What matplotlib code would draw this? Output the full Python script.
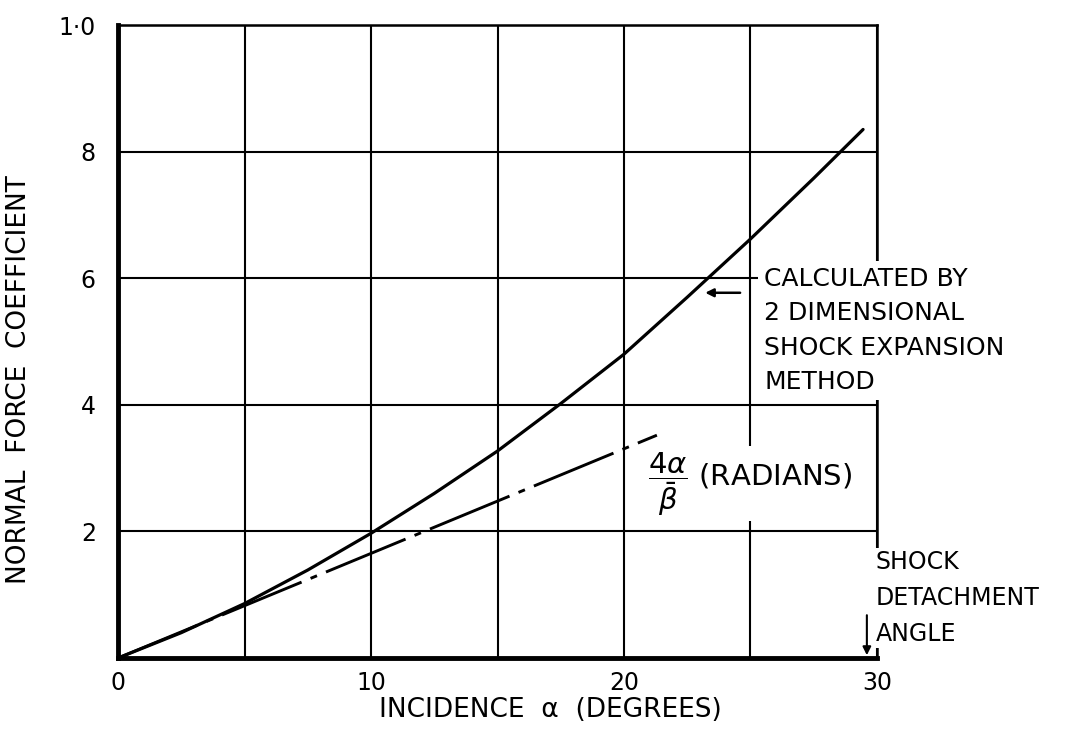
import numpy as np
import matplotlib
matplotlib.use("Agg")
import matplotlib.pyplot as plt

plt.rcParams["font.family"] = "DejaVu Sans"
plt.rcParams["mathtext.fontset"] = "dejavusans"
plt.rcParams["lines.scale_dashes"] = False

# solid curve: 2-D shock expansion method
shock_alpha = [0, 2.5, 5, 7.5, 10, 12.5, 15, 17.5, 20, 22.5, 25, 27.5, 29.45]
shock_cn = [0, 0.040, 0.086, 0.139, 0.197, 0.260, 0.327, 0.402, 0.480, 0.570, 0.662, 0.758, 0.835]

# dash-dot: linear theory 4a/beta
lin_alpha = [0, 21.3]
lin_cn = [0, 0.352]

x_ticks = [0, 5, 10, 15, 20, 25, 30]
x_labels = ["0", "", "10", "", "20", "", "30"]
y_ticks = [0.2, 0.4, 0.6, 0.8, 1.0]
y_labels = ["2", "4", "6", "8", "1·0"]

fig = plt.figure(figsize=(10.92, 7.38), dpi=100)
ax = fig.add_axes([0.1081, 0.1084, 0.695, 0.8577])

ax.plot(shock_alpha, shock_cn, color="black", lw=2.3, solid_capstyle="round",
        solid_joinstyle="round", zorder=4)
lin, = ax.plot(lin_alpha, lin_cn, color="black", lw=2.1, zorder=4)
lin.set_dashes([62, 7, 5, 7])

ax.set_xlim(0, 30)
ax.set_ylim(0, 1.0)
ax.set_xticks(x_ticks)
ax.set_xticklabels(x_labels)
ax.set_yticks(y_ticks)
ax.set_yticklabels(y_labels)
ax.tick_params(length=0, labelsize=17)
ax.tick_params(axis="x", pad=9)
ax.tick_params(axis="y", pad=16)
ax.grid(True, color="black", lw=1.5)
ax.set_axisbelow(True)

for side in ["left", "bottom"]:
    ax.spines[side].set_linewidth(3.5)
for side in ["top", "right"]:
    ax.spines[side].set_linewidth(1.8)

ax.set_xlabel("INCIDENCE  α  (DEGREES)", fontsize=19)
ax.xaxis.set_label_coords(0.569, -0.062)
ax.set_ylabel("NORMAL  FORCE  COEFFICIENT", fontsize=19)
ax.yaxis.set_label_coords(-0.113, 0.44)

box = dict(boxstyle="square,pad=0.25", facecolor="white", edgecolor="none")

ax.text(25.55, 0.618, "CALCULATED BY\n2 DIMENSIONAL\nSHOCK EXPANSION\nMETHOD",
        fontsize=18, va="top", ha="left", linespacing=1.55, bbox=box,
        zorder=6, clip_on=False)
ax.annotate("", xy=(23.1, 0.577), xytext=(24.7, 0.577),
            arrowprops=dict(arrowstyle="-|>", color="black", lw=1.8,
                            mutation_scale=12), zorder=6)

ax.text(20.95, 0.275, r"$\dfrac{4\alpha}{\bar{\beta}}$ (RADIANS)",
        fontsize=21, va="center", ha="left",
        bbox=dict(boxstyle="square,pad=0.12", facecolor="white", edgecolor="none"),
        zorder=6, clip_on=False)

ax.text(29.95, 0.17, "SHOCK\nDETACHMENT\nANGLE", fontsize=17, va="top", ha="left",
        linespacing=1.62, bbox=dict(boxstyle="square,pad=0.1", facecolor="white",
                                    edgecolor="none"), zorder=6, clip_on=False)
ax.annotate("", xy=(29.6, 0.0), xytext=(29.6, 0.072),
            arrowprops=dict(arrowstyle="-|>", color="black", lw=1.5,
                            mutation_scale=12), zorder=7, annotation_clip=False)

fig.savefig("out.png", dpi=100)
